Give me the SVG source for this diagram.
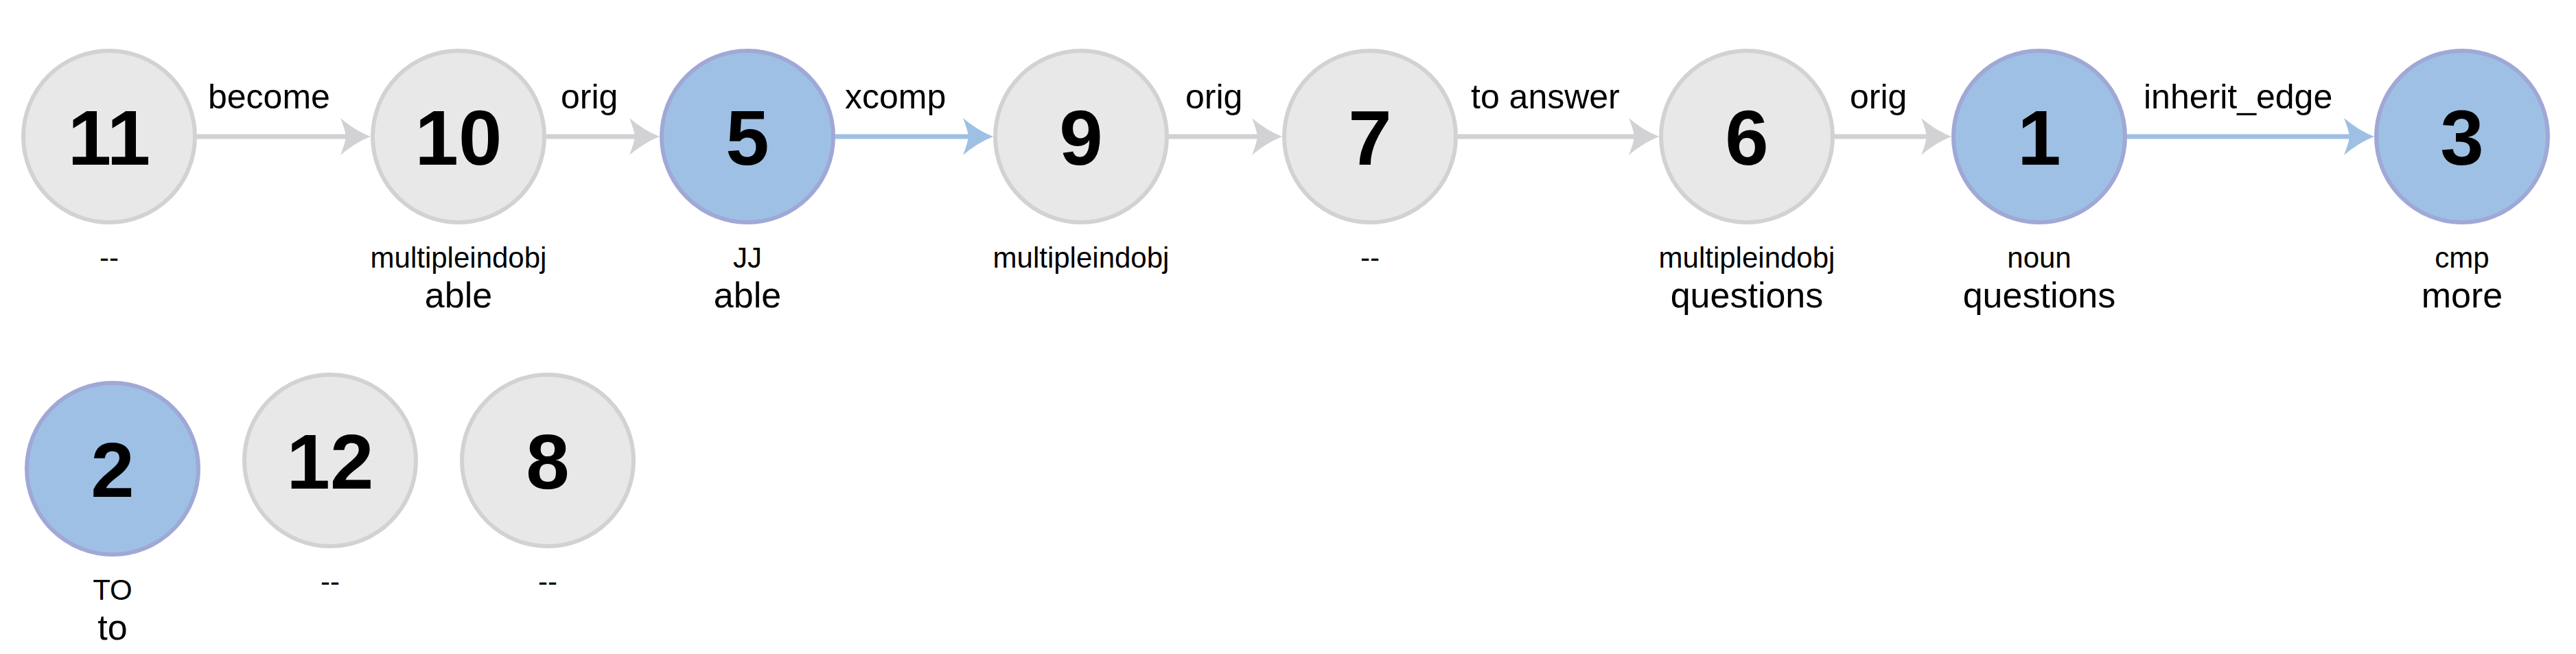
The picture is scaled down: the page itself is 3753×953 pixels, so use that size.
<svg xmlns="http://www.w3.org/2000/svg" width="3753" height="953" viewBox="0 0 3753 953">
<style>
text{font-family:"Liberation Sans",Arial,sans-serif;fill:#000}
.grey circle{fill:#e8e8e8;stroke:#d2d2d4;stroke-width:6}
.blue circle{fill:#9ec0e4;stroke:#a0a8d6;stroke-width:6}
.num{font-size:114px;font-weight:bold;text-anchor:middle}
.pos{font-size:42px;text-anchor:middle}
.word{font-size:52px;text-anchor:middle}
.elabel{font-size:50px}
.eg{stroke:#d2d2d4;stroke-width:7;fill:none;marker-end:url(#ag)}
.eb{stroke:#9ec0e4;stroke-width:7;fill:none;marker-end:url(#ab)}
</style>
<defs>
<marker id="ag" markerUnits="userSpaceOnUse" viewBox="0 0 46 54" markerWidth="46" markerHeight="54" refX="9" refY="27" orient="auto">
<path d="M45,27 Q22,18 1,0 Q8,18 9,27 Q8,36 1,54 Q22,36 45,27 Z" fill="#d2d2d4"/>
</marker>
<marker id="ab" markerUnits="userSpaceOnUse" viewBox="0 0 46 54" markerWidth="46" markerHeight="54" refX="9" refY="27" orient="auto">
<path d="M45,27 Q22,18 1,0 Q8,18 9,27 Q8,36 1,54 Q22,36 45,27 Z" fill="#9ec0e4"/>
</marker>
</defs>
<rect width="3753" height="953" fill="#fff"/>
<g id="connectors">
<path class="eg" d="M287,199 H504"/>
<text class="elabel" x="303" y="158">become</text>
<path class="eg" d="M796,199 H925"/>
<text class="elabel" x="817" y="158">orig</text>
<path class="eb" d="M1217,199 H1411"/>
<text class="elabel" x="1231" y="158">xcomp</text>
<path class="eg" d="M1703,199 H1832"/>
<text class="elabel" x="1727" y="158">orig</text>
<path class="eg" d="M2124,199 H2381"/>
<text class="elabel" x="2143" y="158">to answer</text>
<path class="eg" d="M2673,199 H2807"/>
<text class="elabel" x="2695" y="158">orig</text>
<path class="eb" d="M3099,199 H3423"/>
<text class="elabel" x="3123" y="158">inherit_edge</text>
</g>
<g id="node11" class="grey">
<circle cx="159" cy="199" r="125"/>
<text class="num" x="159" y="240">11</text>
<text class="pos" x="159" y="390">--</text>
</g>
<g id="node10" class="grey">
<circle cx="668" cy="199" r="125"/>
<text class="num" x="668" y="240">10</text>
<text class="pos" x="668" y="390">multipleindobj</text>
<text class="word" x="668" y="448">able</text>
</g>
<g id="node5" class="blue">
<circle cx="1089" cy="199" r="125"/>
<text class="num" x="1089" y="240">5</text>
<text class="pos" x="1089" y="390">JJ</text>
<text class="word" x="1089" y="448">able</text>
</g>
<g id="node9" class="grey">
<circle cx="1575" cy="199" r="125"/>
<text class="num" x="1575" y="240">9</text>
<text class="pos" x="1575" y="390">multipleindobj</text>
</g>
<g id="node7" class="grey">
<circle cx="1996" cy="199" r="125"/>
<text class="num" x="1996" y="240">7</text>
<text class="pos" x="1996" y="390">--</text>
</g>
<g id="node6" class="grey">
<circle cx="2545" cy="199" r="125"/>
<text class="num" x="2545" y="240">6</text>
<text class="pos" x="2545" y="390">multipleindobj</text>
<text class="word" x="2545" y="448">questions</text>
</g>
<g id="node1" class="blue">
<circle cx="2971" cy="199" r="125"/>
<text class="num" x="2971" y="240">1</text>
<text class="pos" x="2971" y="390">noun</text>
<text class="word" x="2971" y="448">questions</text>
</g>
<g id="node3" class="blue">
<circle cx="3587" cy="199" r="125"/>
<text class="num" x="3587" y="240">3</text>
<text class="pos" x="3587" y="390">cmp</text>
<text class="word" x="3587" y="448">more</text>
</g>
<g id="node2" class="blue">
<circle cx="164" cy="683" r="125"/>
<text class="num" x="164" y="724">2</text>
<text class="pos" x="164" y="874">TO</text>
<text class="word" x="164" y="932">to</text>
</g>
<g id="node12" class="grey">
<circle cx="481" cy="671" r="125"/>
<text class="num" x="481" y="712">12</text>
<text class="pos" x="481" y="862">--</text>
</g>
<g id="node8" class="grey">
<circle cx="798" cy="671" r="125"/>
<text class="num" x="798" y="712">8</text>
<text class="pos" x="798" y="862">--</text>
</g>
</svg>
